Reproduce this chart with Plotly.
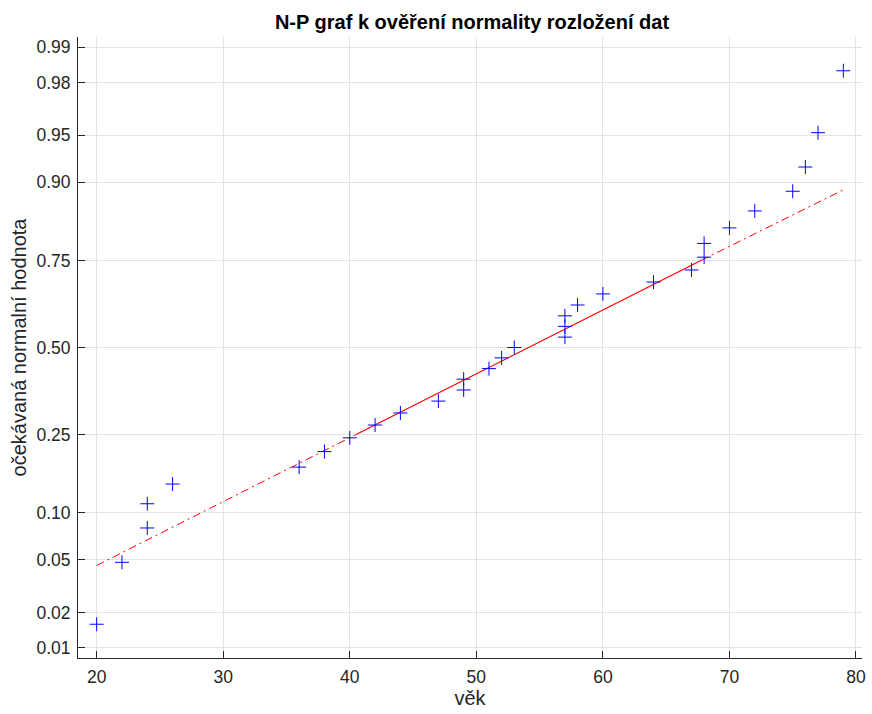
import plotly.graph_objects as go
from statistics import NormalDist

# Data
age = [20, 22, 24, 24, 26, 36, 38, 40, 42, 44, 47, 49, 49, 51, 52, 53,
       57, 57, 57, 58, 60, 64, 67, 68, 68, 70, 72, 75, 76, 77, 79]
prob = [0.016, 0.048, 0.081, 0.113, 0.145, 0.177, 0.210, 0.242, 0.274, 0.306,
        0.339, 0.371, 0.403, 0.435, 0.468, 0.500, 0.532, 0.565, 0.597, 0.629,
        0.661, 0.694, 0.726, 0.758, 0.790, 0.823, 0.855, 0.887, 0.919, 0.952, 0.984]

# reference line: extended (dash-dot) ends and quartile (solid) part
line_x_left = [20, 40.5]
line_p_left = [0.0456, 0.25]
line_x_mid = [40.5, 67.75]
line_p_mid = [0.25, 0.75]
line_x_right = [67.75, 79]
line_p_right = [0.75, 0.889]

tick_probs = [0.01, 0.02, 0.05, 0.10, 0.25, 0.50, 0.75, 0.90, 0.95, 0.98, 0.99]
tick_labels = ["0.01", "0.02", "0.05", "0.10", "0.25", "0.50", "0.75", "0.90", "0.95", "0.98", "0.99"]
x_ticks = [20, 30, 40, 50, 60, 70, 80]

nd = NormalDist()
z = lambda ps: [nd.inv_cdf(p) for p in ps]
ylim = nd.inv_cdf(1 - 0.25 / len(age))

fig = go.Figure()
fig.add_trace(go.Scatter(x=line_x_left, y=z(line_p_left), mode="lines",
                         line=dict(color="red", width=1, dash="8px,4px,2px,4px"), showlegend=False))
fig.add_trace(go.Scatter(x=line_x_right, y=z(line_p_right), mode="lines",
                         line=dict(color="red", width=1, dash="8px,4px,2px,4px"), showlegend=False))
fig.add_trace(go.Scatter(x=line_x_mid, y=z(line_p_mid), mode="lines",
                         line=dict(color="red", width=1.2), showlegend=False))
fig.add_trace(go.Scatter(x=age, y=z(prob), mode="markers",
                         marker=dict(symbol="cross-thin-open", size=10, color="blue",
                                     line=dict(color="blue", width=1)),
                         showlegend=False))

FONT = "Liberation Sans, Arial, sans-serif"
axis_font = dict(family=FONT, size=17.5, color="#262626")
fig.update_layout(
    width=872, height=714,
    margin=dict(l=78, r=6, t=37, b=56),
    plot_bgcolor="white", paper_bgcolor="white",
    font=dict(family=FONT, color="#262626"),
    title=dict(text="<b>N-P graf k ověření normality rozložení dat</b>",
               x=(78 + 866) / 2 / 872, xanchor="center", y=1 - 22 / 714, yanchor="middle",
               font=dict(family=FONT, size=20, color="black")),
    xaxis=dict(range=[18.525, 80.475], tickvals=x_ticks, ticks="inside", ticklen=7,
               tickcolor="#262626", showgrid=True, gridcolor="#e3e3e3", zeroline=False,
               showline=True, linecolor="#262626", linewidth=1, tickfont=axis_font,
               ticklabelstandoff=3,
               title=dict(text="věk", font=dict(family=FONT, size=20, color="#262626"), standoff=4)),
    yaxis=dict(range=[-ylim, ylim], tickvals=z(tick_probs), ticktext=tick_labels,
               ticks="inside", ticklen=7, tickcolor="#262626", showgrid=True,
               gridcolor="#e3e3e3", zeroline=False, showline=True, linecolor="#262626",
               linewidth=1, tickfont=axis_font, ticklabelstandoff=3,
               title=dict(text="očekávaná normalní hodnota", font=dict(family=FONT, size=20, color="#262626"),
                          standoff=4)),
)
fig.write_html("out.html")
